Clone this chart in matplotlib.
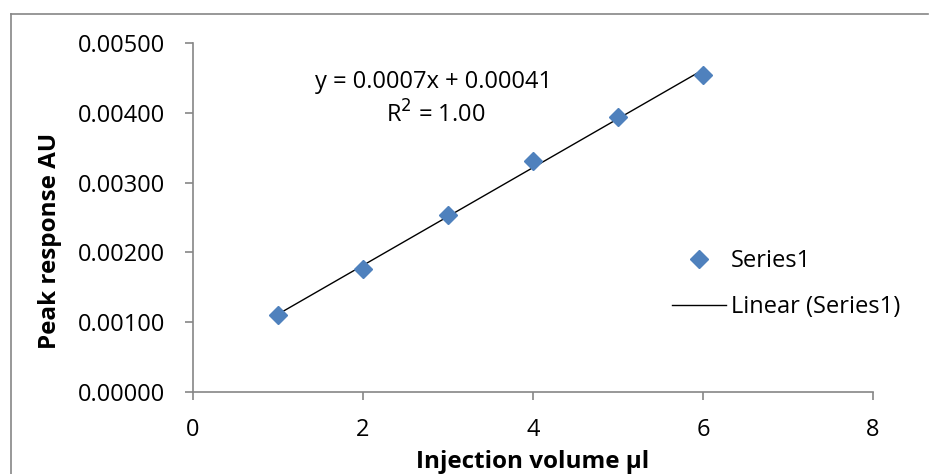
import numpy as np
import matplotlib.pyplot as plt
from matplotlib.lines import Line2D

plt.rcParams['font.family'] = ['Open Sans', 'DejaVu Sans']

# dữ liệu
injection_ul = [1, 2, 3, 4, 5, 6]
peak_au = [0.00110, 0.00176, 0.00254, 0.00331, 0.00394, 0.00454]
x_ticks = [0, 2, 4, 6, 8]
y_ticks = [0.000, 0.001, 0.002, 0.003, 0.004, 0.005]
eq_text = "y = 0.0007x + 0.00041"
r2_text = "R$^2$ = 1.00"

blue = '#4F81BD'
grey = '#868686'
fs = 17

W, H = 935, 474
fig = plt.figure(figsize=(W / 100, H / 100), dpi=100)
ax = fig.add_axes([193 / W, 1 - 392 / H, 680 / W, 349 / H])

# đường hồi quy tuyến tính
k, b = np.polyfit(injection_ul, peak_au, 1)
xs = np.array([injection_ul[0], injection_ul[-1]])
ax.plot(xs, k * xs + b, color='black', lw=1.0, zorder=2)
ax.plot(injection_ul, peak_au, ls='none', marker='D', ms=9.5, color=blue, zorder=3)

ax.set_xlim(0, 8)
ax.set_ylim(0, 0.005)
ax.set_xticks(x_ticks)
ax.set_yticks(y_ticks)
ax.set_yticklabels([f"{v:.5f}" for v in y_ticks])
ax.tick_params(labelsize=fs, labelcolor='black', color=grey, length=6, width=1.2)
ax.tick_params(axis='y', pad=14)
ax.tick_params(axis='x', pad=13)
for s in ['top', 'right']:
    ax.spines[s].set_visible(False)
for s in ['left', 'bottom']:
    ax.spines[s].set_color(grey)
    ax.spines[s].set_linewidth(1.2)

# nhãn trục
fig.text(533 / W, 1 - 462 / H, 'Injection volume µl', fontsize=17.5,
         fontweight='bold', ha='center', va='center')
fig.text(50 / W, 1 - 241 / H, 'Peak response AU', fontsize=17.5,
         fontweight='bold', ha='center', va='center', rotation=90)

fig.text(434 / W, 1 - 82 / H, eq_text, fontsize=fs, ha='center', va='center')
fig.text(436 / W, 1 - 115 / H, r2_text, fontsize=fs, ha='center', va='center')

handles = [
    Line2D([], [], ls='none', marker='D', ms=9.5, color=blue),
    Line2D([], [], color='black', lw=1.0),
]
fig.legend(handles, ['Series1', 'Linear (Series1)'], loc='center left',
           bbox_to_anchor=(672 / W, 1 - 284 / H), frameon=False,
           fontsize=fs, handlelength=2.3, handletextpad=0.2,
           labelspacing=0.93, borderaxespad=0, borderpad=0)

# khung viền ngoài của biểu đồ
fig.add_artist(Line2D([11 / W, 11 / W], [0, 1 - 14 / H], color=grey, lw=1.2))
fig.add_artist(Line2D([11 / W, 928 / W], [1 - 14 / H, 1 - 14 / H], color=grey, lw=1.2))

fig.savefig('out.png', dpi=100)
